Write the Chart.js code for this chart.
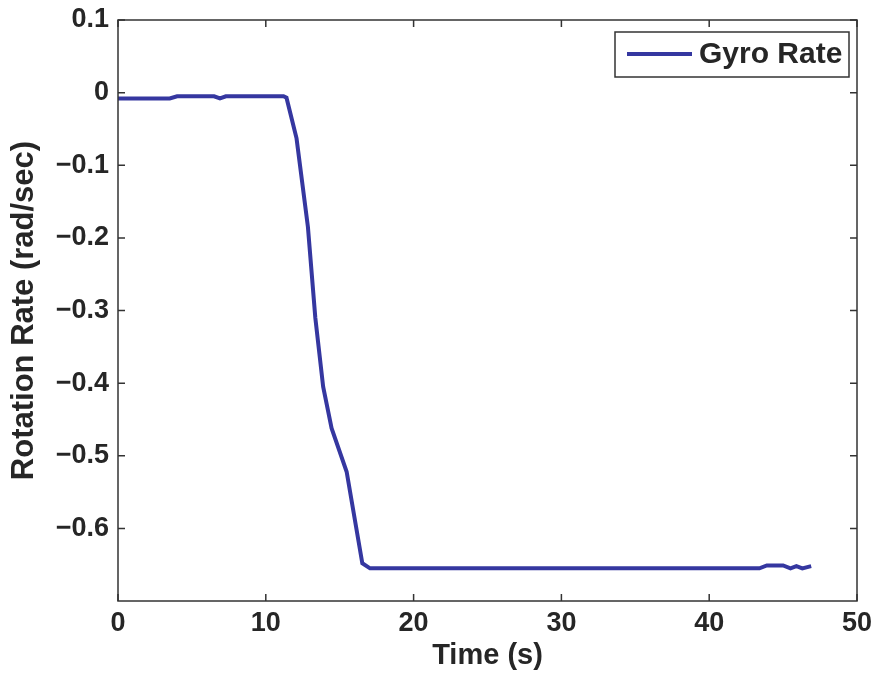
<!DOCTYPE html>
<html lang="en">
<head>
    <meta charset="UTF-8">
    <title>Gyro Rate</title>
    <script src="https://cdn.jsdelivr.net/npm/chart.js"></script>
    <style>
        body {
            margin: 0;
            background-color: #ffffff;
        }
        #wrap {
            width: 880px;
            height: 673px;
        }
    </style>
</head>
<body>
    <div id="wrap"><canvas id="chart" width="880" height="673"></canvas></div>
    <script>
        // data
        const timeS = [0, 3.5, 4.0, 6.5, 6.9, 7.3, 11.2, 11.4, 12.08, 12.85, 13.35, 13.88, 14.45, 15.47, 16.53, 17.05, 43.4, 43.9, 45.0, 45.5, 45.9, 46.3, 46.9];
        const gyroRate = [-0.008, -0.008, -0.005, -0.005, -0.008, -0.005, -0.005, -0.007, -0.063, -0.185, -0.31, -0.405, -0.462, -0.522, -0.648, -0.655, -0.655, -0.651, -0.651, -0.655, -0.652, -0.655, -0.652];
        const xTicks = [0, 10, 20, 30, 40, 50];
        const yTicks = [0.1, 0, -0.1, -0.2, -0.3, -0.4, -0.5, -0.6];

        const textColor = '#262626';
        const axisColor = '#333333';
        const lineColor = '#3537a0';
        const fontFamily = '"Liberation Sans", Arial, Helvetica, sans-serif';

        // box + inward ticks + legend, MATLAB style
        Chart.register({
            id: 'matlabFrame',
            afterDatasetsDraw(chart) {
                const { ctx, chartArea: a } = chart;
                const xs = chart.scales.x, ys = chart.scales.y;
                ctx.save();
                ctx.strokeStyle = axisColor;
                ctx.lineWidth = 1.5;
                ctx.strokeRect(a.left, a.top, a.right - a.left, a.bottom - a.top);
                const tl = 7;
                ctx.beginPath();
                xTicks.forEach(v => {
                    const px = xs.getPixelForValue(v);
                    ctx.moveTo(px, a.bottom); ctx.lineTo(px, a.bottom - tl);
                    ctx.moveTo(px, a.top); ctx.lineTo(px, a.top + tl);
                });
                yTicks.forEach(v => {
                    const py = ys.getPixelForValue(v);
                    ctx.moveTo(a.left, py); ctx.lineTo(a.left + tl, py);
                    ctx.moveTo(a.right, py); ctx.lineTo(a.right - tl, py);
                });
                ctx.stroke();

                // legend
                const lx = 615, ly = 32, lw = 234, lh = 45;
                ctx.fillStyle = '#ffffff';
                ctx.fillRect(lx, ly, lw, lh);
                ctx.strokeRect(lx, ly, lw, lh);
                ctx.strokeStyle = lineColor;
                ctx.lineWidth = 4;
                ctx.beginPath();
                ctx.moveTo(627, 54); ctx.lineTo(692, 54);
                ctx.stroke();
                ctx.fillStyle = textColor;
                ctx.font = 'bold 30px ' + fontFamily;
                ctx.textAlign = 'left';
                ctx.textBaseline = 'middle';
                ctx.fillText(chart.data.datasets[0].label, 699, 55);
                ctx.restore();
            }
        });

        function noPad(s) {
            s.paddingTop = 0;
            s.paddingBottom = 0;
            s.paddingLeft = 0;
            s.paddingRight = 0;
        }

        const ctx = document.getElementById('chart').getContext('2d');
        const chart = new Chart(ctx, {
            type: 'line',
            data: {
                datasets: [{
                    label: 'Gyro Rate',
                    data: timeS.map((t, i) => ({ x: t, y: gyroRate[i] })),
                    borderColor: lineColor,
                    borderWidth: 4,
                    pointRadius: 0,
                    tension: 0,
                    fill: false,
                }]
            },
            options: {
                responsive: false,
                animation: false,
                layout: { padding: { left: 0, right: 23, top: 20, bottom: 0 } },
                plugins: {
                    legend: { display: false },
                    tooltip: { enabled: false },
                },
                scales: {
                    x: {
                        type: 'linear',
                        min: 0,
                        max: 50,
                        grid: { display: false, drawTicks: false },
                        border: { display: false },
                        afterBuildTicks: (s) => { s.ticks = xTicks.map(v => ({ value: v })); },
                        afterFit: (s) => { s.height = 72; noPad(s); },
                        ticks: {
                            padding: 6,
                            color: textColor,
                            font: { family: fontFamily, size: 27, weight: 'bold' },
                            maxRotation: 0,
                        },
                        title: {
                            display: true,
                            text: 'Time (s)',
                            color: textColor,
                            font: { family: fontFamily, size: 29, weight: 'bold' },
                            padding: { top: 0, bottom: 0 },
                        },
                    },
                    y: {
                        min: -0.7,
                        max: 0.1,
                        grid: { display: false, drawTicks: false },
                        border: { display: false },
                        afterBuildTicks: (s) => { s.ticks = yTicks.map(v => ({ value: v })); },
                        afterFit: (s) => { s.width = 118; noPad(s); },
                        ticks: {
                            padding: 9,
                            color: textColor,
                            font: { family: fontFamily, size: 27, weight: 'bold' },
                            callback: (v) => {
                                const r = Math.round(v * 10) / 10;
                                if (r === 0) return '0';
                                return (r < 0 ? '\u2212' : '') + Math.abs(r).toFixed(1);
                            },
                        },
                        title: {
                            display: true,
                            text: 'Rotation Rate (rad/sec)',
                            color: textColor,
                            font: { family: fontFamily, size: 31, weight: 'bold' },
                            padding: { top: 6, bottom: 0 },
                        },
                    },
                },
            },
        });
    </script>
</body>
</html>
